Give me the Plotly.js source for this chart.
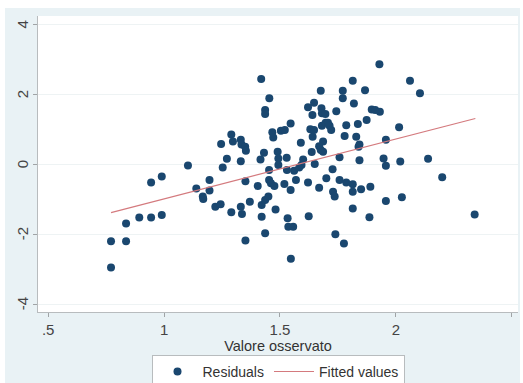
<!DOCTYPE html>
<html>
<head>
<meta charset="utf-8">
<script src="https://cdn.plot.ly/plotly-3.0.1.min.js"></script>
<style>
html,body{margin:0;padding:0;background:#ffffff;}
#chart{position:absolute;left:5px;top:8px;width:515px;height:375px;}
</style>
</head>
<body>
<div id="chart"></div>
<script>
// Observed values (x) and residuals (y)
var obsX = [0.771,0.771,0.836,0.836,0.893,0.944,0.990,0.944,0.990,1.103,1.139,1.167,1.169,1.196,1.196,1.221,1.244,1.246,1.253,1.271,1.290,1.297,1.290,1.331,1.334,1.331,1.331,1.336,1.350,1.353,1.351,1.351,1.370,1.404,1.419,1.416,1.421,1.421,1.431,1.436,1.436,1.436,1.436,1.450,1.454,1.453,1.453,1.461,1.467,1.471,1.476,1.481,1.490,1.493,1.493,1.504,1.521,1.519,1.529,1.530,1.533,1.536,1.557,1.546,1.546,1.547,1.561,1.569,1.583,1.590,1.593,1.600,1.621,1.621,1.624,1.631,1.637,1.640,1.647,1.641,1.647,1.650,1.669,1.669,1.676,1.679,1.681,1.681,1.686,1.676,1.686,1.696,1.697,1.700,1.707,1.714,1.721,1.727,1.729,1.736,1.739,1.743,1.757,1.757,1.771,1.771,1.776,1.779,1.786,1.786,1.814,1.819,1.814,1.814,1.814,1.829,1.836,1.839,1.843,1.843,1.850,1.867,1.874,1.886,1.890,1.896,1.911,1.931,1.929,1.947,1.957,1.957,1.957,2.014,2.019,2.026,2.061,2.104,2.139,2.200,2.340];
var residY = [-2.95,-2.20,-2.20,-1.69,-1.52,-1.52,-1.45,-0.52,-0.35,-0.03,-0.69,-0.92,-0.99,-0.45,-0.75,-1.21,-1.14,0.58,-0.09,0.16,0.85,0.65,-1.37,0.70,0.57,0.09,-1.21,-1.42,0.50,0.39,-0.48,-2.18,-1.07,-0.62,2.44,0.14,-1.16,-1.50,0.33,1.55,1.44,-1.02,-1.97,-0.92,1.89,-0.16,-0.45,-0.54,0.92,0.77,-0.62,-1.29,0.36,0.17,-0.02,0.96,0.98,-0.56,0.19,-0.16,-1.54,-1.78,-1.78,1.17,-0.73,-2.70,-0.18,-0.45,-0.09,0.62,-0.02,0.14,1.63,-0.52,-1.48,1.00,0.35,1.41,1.76,0.79,0.98,0.01,0.52,-0.67,2.10,1.60,1.46,1.10,0.65,0.41,0.36,1.44,1.19,-0.40,1.19,1.10,0.98,-0.14,-0.78,-0.92,-2.00,1.52,0.20,-0.45,2.10,1.89,-2.26,0.81,1.12,-0.52,2.39,1.74,-0.57,-0.78,-1.26,0.79,1.15,0.50,0.57,0.12,-0.71,2.12,1.27,-1.51,-0.64,1.57,1.55,1.50,2.86,0.17,0.70,-0.04,-1.05,1.06,0.08,-0.94,2.39,2.03,0.16,-0.37,-1.43];
// Fitted values line (endpoints)
var fitX = [0.771, 2.343];
var fitY = [-1.38, 1.31];
// Tick labels
var xTickVals = [0.5, 1, 1.5, 2, 2.5];
var xTickText = ['.5', '1', '1.5', '2', '2.5'];
var yTickVals = [-4, -2, 0, 2, 4];
var yTickText = ['-4', '-2', '0', '2', '4'];

var font = "'Liberation Sans', Arial, sans-serif";

var traces = [
  {
    x: obsX, y: residY, type: 'scatter', mode: 'markers', name: 'Residuals',
    marker: {color: '#1a476f', size: 8, line: {width: 0}}
  },
  {
    x: fitX, y: fitY, type: 'scatter', mode: 'lines', name: 'Fitted values',
    line: {color: '#d47a7e', width: 1.2}
  }
];

// Rotated y tick labels (Stata style), placed on the y scale
var yLabelAnnotations = yTickVals.map(function (v, i) {
  return {
    xref: 'paper', yref: 'y', x: 0, y: v,
    xanchor: 'center', yanchor: 'middle', xshift: -16,
    text: yTickText[i], textangle: -90, showarrow: false,
    font: {family: font, size: 15, color: '#444444'}
  };
});

var layout = {
  width: 515, height: 375,
  margin: {l: 33, r: 2, t: 8, b: 71},
  paper_bgcolor: '#e9f2f5',
  plot_bgcolor: '#ffffff',
  font: {family: font, size: 14, color: '#333333'},
  showlegend: true,
  legend: {
    orientation: 'h', x: 0.5, xanchor: 'center',
    yref: 'container', y: 0.075, yanchor: 'top',
    bgcolor: '#ffffff', bordercolor: '#b8bcbe', borderwidth: 1,
    font: {family: font, size: 14, color: '#333333'},
    itemwidth: 40
  },
  annotations: yLabelAnnotations,
  xaxis: {
    range: [0.456, 2.527],
    automargin: false,
    tickvals: xTickVals, ticktext: xTickText,
    ticks: 'outside', ticklen: 4, tickcolor: '#a0a4a6', tickwidth: 1,
    showline: true, linecolor: '#b8bcbe', linewidth: 1,
    showgrid: false, zeroline: false,
    tickfont: {family: font, size: 15, color: '#444444'},
    title: {text: 'Valore osservato', font: {family: font, size: 14.5, color: '#333333'}, standoff: 2}
  },
  yaxis: {
    range: [-4.22, 4.24],
    automargin: false,
    tickvals: yTickVals,
    showticklabels: false,
    ticks: 'outside', ticklen: 4, tickcolor: '#a0a4a6', tickwidth: 1,
    showline: true, linecolor: '#b8bcbe', linewidth: 1,
    showgrid: true, gridcolor: '#eef3f4', gridwidth: 1,
    zeroline: false
  }
};

Plotly.newPlot('chart', traces, layout, {displayModeBar: false, staticPlot: true});
</script>
</body>
</html>
